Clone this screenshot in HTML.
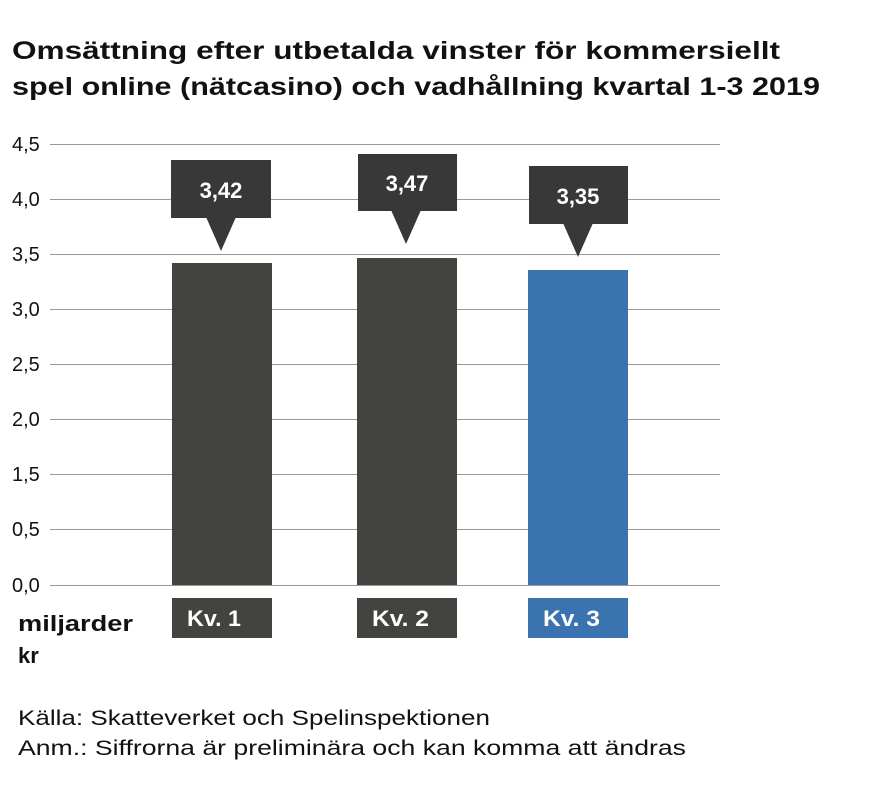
<!DOCTYPE html>
<html><head><meta charset="utf-8"><style>
body{margin:0;background:#fff;width:874px;height:789px;overflow:hidden;font-family:"Liberation Sans",sans-serif;}
</style></head><body>
<svg width="874" height="789" xmlns="http://www.w3.org/2000/svg" font-family="Liberation Sans, sans-serif">
<text x="12" y="59" font-size="25" font-weight="bold" fill="#111" textLength="768" lengthAdjust="spacingAndGlyphs">Omsättning efter utbetalda vinster för kommersiellt</text>
<text x="12" y="95" font-size="25" font-weight="bold" fill="#111" textLength="808" lengthAdjust="spacingAndGlyphs">spel online (nätcasino) och vadhållning kvartal 1-3 2019</text>
<g stroke="#999" stroke-width="1">
<line x1="50" x2="720" y1="144.5" y2="144.5"/><line x1="50" x2="720" y1="199.5" y2="199.5"/>
<line x1="50" x2="720" y1="254.5" y2="254.5"/><line x1="50" x2="720" y1="309.5" y2="309.5"/>
<line x1="50" x2="720" y1="364.5" y2="364.5"/><line x1="50" x2="720" y1="419.5" y2="419.5"/>
<line x1="50" x2="720" y1="474.5" y2="474.5"/><line x1="50" x2="720" y1="529.5" y2="529.5"/>
<line x1="50" x2="720" y1="585.5" y2="585.5"/>
</g>
<g font-size="20" fill="#111">
<text x="12" y="151">4,5</text><text x="12" y="206">4,0</text><text x="12" y="261">3,5</text>
<text x="12" y="316">3,0</text><text x="12" y="371">2,5</text><text x="12" y="426">2,0</text>
<text x="12" y="481">1,5</text><text x="12" y="536">0,5</text><text x="12" y="592">0,0</text>
</g>
<rect x="172" y="263" width="100" height="322" fill="#434440"/>
<rect x="357" y="258" width="100" height="327" fill="#434440"/>
<rect x="528" y="270" width="100" height="315" fill="#3a73b0"/>
<g fill="#383838">
<rect x="171" y="160" width="100" height="58"/><polygon points="206,217 236,217 221,251"/>
<rect x="358" y="154" width="99" height="57"/><polygon points="391,210 421,210 406,244"/>
<rect x="529" y="166" width="99" height="58"/><polygon points="563,223 593,223 578,257"/>
</g>
<g font-size="22" font-weight="bold" fill="#fff" text-anchor="middle">
<text x="221" y="198">3,42</text><text x="407" y="191">3,47</text><text x="578" y="204">3,35</text>
</g>
<rect x="172" y="598" width="100" height="40" fill="#434440"/>
<rect x="357" y="598" width="100" height="40" fill="#434440"/>
<rect x="528" y="598" width="100" height="40" fill="#3a73b0"/>
<g font-size="22" font-weight="bold" fill="#fff">
<text x="187" y="626" textLength="54" lengthAdjust="spacingAndGlyphs">Kv. 1</text><text x="372" y="626" textLength="57" lengthAdjust="spacingAndGlyphs">Kv. 2</text><text x="543" y="626" textLength="57" lengthAdjust="spacingAndGlyphs">Kv. 3</text>
</g>
<text x="18" y="631" font-size="22" font-weight="bold" fill="#111" textLength="115" lengthAdjust="spacingAndGlyphs">miljarder</text>
<text x="18" y="663" font-size="22" font-weight="bold" fill="#111">kr</text>
<text x="18" y="725" font-size="21" fill="#111" textLength="472" lengthAdjust="spacingAndGlyphs">Källa: Skatteverket och Spelinspektionen</text>
<text x="18" y="755" font-size="21" fill="#111" textLength="668" lengthAdjust="spacingAndGlyphs">Anm.: Siffrorna är preliminära och kan komma att ändras</text>
</svg>
</body></html>
